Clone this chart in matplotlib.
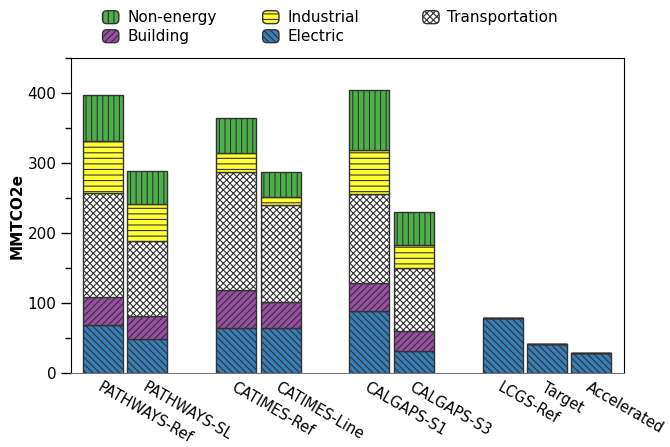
import numpy as np
import matplotlib
matplotlib.use("Agg")
import matplotlib.pyplot as plt
from matplotlib.patches import FancyBboxPatch, Rectangle
from matplotlib.legend_handler import HandlerPatch
from matplotlib.ticker import MultipleLocator

scenarios = ["PATHWAYS-Ref", "PATHWAYS-SL", "CATIMES-Ref", "CATIMES-Line",
             "CALGAPS-S1", "CALGAPS-S3", "LCGS-Ref", "Target", "Accelerated"]
positions = [0, 1, 3, 4, 6, 7, 9, 10, 11]

# emissions by sector (MMTCO2e), stacked bottom to top
electric = [68, 48, 65, 64, 88, 31, 78, 41, 28]
building = [40, 33, 53, 37, 41, 29, 0, 0, 0]
transportation = [149, 108, 169, 139, 127, 90, 0, 0, 0]
industrial = [75, 53, 28, 12, 63, 33, 0, 0, 0]
non_energy = [65, 47, 49, 35, 85, 47, 0, 0, 0]

sectors = [
    ("Electric", electric, "#377eb8", "\\" * 5),
    ("Building", building, "#984ea3", "/" * 5),
    ("Transportation", transportation, "white", "xxxxx"),
    ("Industrial", industrial, "#ffff33", "---"),
    ("Non-energy", non_energy, "#4daf4a", "|||"),
]

plt.rcParams["font.family"] = "DejaVu Sans"
plt.rcParams["hatch.linewidth"] = 0.8

fig = plt.figure(figsize=(6.7, 4.47), dpi=100)
ax = fig.add_axes([0.106, 0.1655, 0.825, 0.7045])

handles = {}
bottom = np.zeros(len(scenarios))
for name, vals, color, hatch in sectors:
    vals = np.array(vals, dtype=float)
    bars = ax.bar(positions, vals, width=0.9, bottom=bottom, color=color,
                  edgecolor="#333333", linewidth=1.0, hatch=hatch, label=name)
    handles[name] = bars[0]
    bottom += vals

ax.set_xlim(-0.72, 11.73)
ax.set_ylim(0, 450)
ax.yaxis.set_major_locator(MultipleLocator(100))
ax.yaxis.set_minor_locator(MultipleLocator(50))
ax.tick_params(axis="y", which="major", length=7, width=1, labelsize=11)
ax.tick_params(axis="y", which="minor", length=4, width=1)
ax.set_xticks(positions)
ax.set_xticklabels(scenarios, rotation=-30, ha="left", va="top",
                   rotation_mode="anchor", fontsize=10.5)
ax.tick_params(axis="x", length=0, pad=5)
ax.spines["bottom"].set_color("#777777")
ax.set_ylabel("MMTCO2e", fontsize=11, fontweight="bold", labelpad=2)


def rounded_patch(legend, orig_handle, xdescent, ydescent, width, height, fontsize):
    return FancyBboxPatch((-xdescent + 1, -ydescent + 1), width - 2, height - 2,
                          boxstyle="round,pad=0,rounding_size=3")


# one legend per column so the columns sit at even spacing
columns = [["Non-energy", "Building"], ["Industrial", "Electric"], ["Transportation"]]
col_x = [0.135, 0.374, 0.613]
for names, x in zip(columns, col_x):
    fig.legend([handles[n] for n in names], names, frameon=False,
               loc="upper left", bbox_to_anchor=(x, 1.003), fontsize=11,
               handlelength=1.25, handleheight=1.2, handletextpad=0.45,
               labelspacing=0.2, borderaxespad=0.3,
               handler_map={Rectangle: HandlerPatch(patch_func=rounded_patch)})

fig.savefig("out.png", dpi=100)
